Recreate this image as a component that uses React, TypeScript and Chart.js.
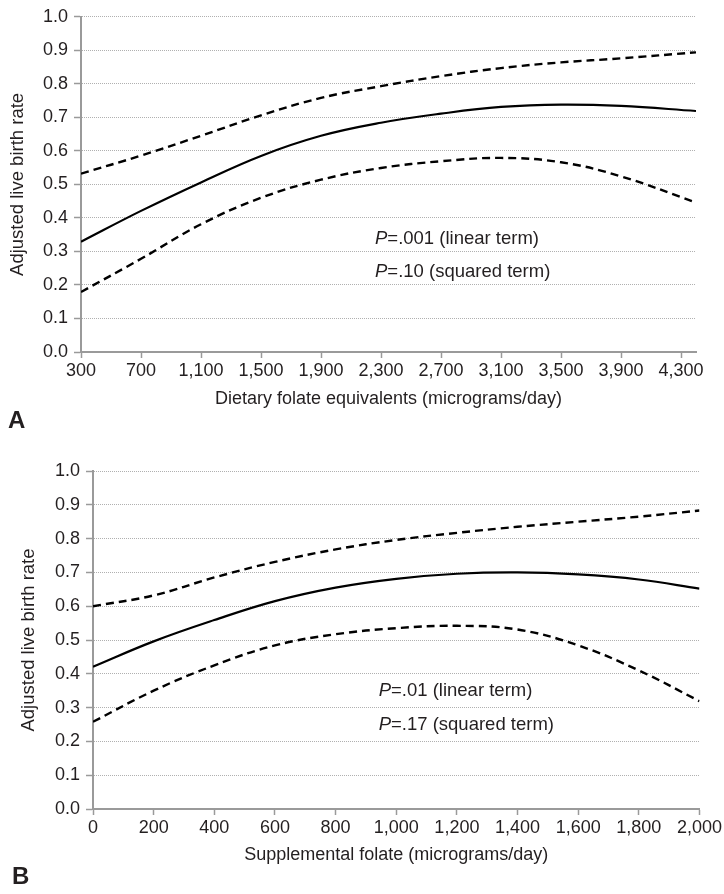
import React, { useEffect, useRef } from 'react';
import { Chart, registerables } from 'chart.js';

Chart.register(...registerables);

// ---------- Data ----------
const yTicks = [0, 0.1, 0.2, 0.3, 0.4, 0.5, 0.6, 0.7, 0.8, 0.9, 1.0];

// Panel A: dietary folate equivalents
const xTicksA = [300, 700, 1100, 1500, 1900, 2300, 2700, 3100, 3500, 3900, 4300];
const xA = [300, 700, 1100, 1500, 1900, 2300, 2700, 3100, 3500, 3900, 4400];
const estimateA = [0.329, 0.421, 0.506, 0.585, 0.645, 0.684, 0.711, 0.731, 0.738, 0.734, 0.719];
const upperA = [0.532, 0.586, 0.645, 0.706, 0.758, 0.793, 0.823, 0.847, 0.864, 0.876, 0.894];
const lowerA = [0.179, 0.278, 0.381, 0.46, 0.514, 0.549, 0.569, 0.579, 0.566, 0.524, 0.446];

// Panel B: supplemental folate
const xTicksB = [0, 200, 400, 600, 800, 1000, 1200, 1400, 1600, 1800, 2000];
const xB = [0, 200, 400, 600, 800, 1000, 1200, 1400, 1600, 1800, 2000];
const estimateB = [0.421, 0.496, 0.559, 0.615, 0.655, 0.681, 0.696, 0.7, 0.694, 0.679, 0.652];
const upperB = [0.6, 0.632, 0.685, 0.731, 0.768, 0.796, 0.817, 0.835, 0.85, 0.865, 0.883];
const lowerB = [0.258, 0.35, 0.425, 0.484, 0.517, 0.535, 0.542, 0.531, 0.484, 0.41, 0.319];

const FONT = "'Liberation Sans', Arial, Helvetica, sans-serif";
const TEXT = '#231f20';

type PanelSpec = {
  letter: string;
  xTitle: string;
  xMin: number;
  xMax: number;
  xTicks: number[];
  xs: number[];
  est: number[];
  up: number[];
  lo: number[];
  pLines: string[];
  annX: number;
  annY: number[];
  pad: { top: number; right: number };
  yWidth: number;
  xHeight: number;
  xTickPad: number;
  xTitlePadBottom: number;
  yTitlePadTop: number;
  letterPos: { x: number; y: number };
};

const panels: PanelSpec[] = [
  {
    letter: 'A',
    xTitle: 'Dietary folate equivalents (micrograms/day)',
    xMin: 300,
    xMax: 4400,
    xTicks: xTicksA,
    xs: xA,
    est: estimateA,
    up: upperA,
    lo: lowerA,
    pLines: ['=.001 (linear term)', '=.10 (squared term)'],
    annX: 2260,
    annY: [0.337, 0.24],
    pad: { top: 14, right: 28 },
    yWidth: 81,
    xHeight: 95,
    xTickPad: 2,
    xTitlePadBottom: 37,
    yTitlePadTop: 7,
    letterPos: { x: 8, y: 428 },
  },
  {
    letter: 'B',
    xTitle: 'Supplemental folate (micrograms/day)',
    xMin: 0,
    xMax: 2000,
    xTicks: xTicksB,
    xs: xB,
    est: estimateB,
    up: upperB,
    lo: lowerB,
    pLines: ['=.01 (linear term)', '=.17 (squared term)'],
    annX: 942,
    annY: [0.349, 0.25],
    pad: { top: 24, right: 21 },
    yWidth: 93,
    xHeight: 85,
    xTickPad: 2,
    xTitlePadBottom: 28,
    yTitlePadTop: 18,
    letterPos: { x: 12, y: 437 },
  },
];

function Panel({ spec }: { spec: PanelSpec }) {
  const ref = useRef<HTMLCanvasElement | null>(null);

  useEffect(() => {
    if (!ref.current) return;
    const toPts = (ys: number[]) => spec.xs.map((x, i) => ({ x, y: ys[i] }));

    const annotPlugin = {
      id: 'annot' + spec.letter,
      afterDraw(chart: any) {
        const ctx = chart.ctx;
        const xs = chart.scales.x;
        const ys = chart.scales.y;
        ctx.save();
        ctx.fillStyle = TEXT;
        ctx.textBaseline = 'middle';
        ctx.textAlign = 'left';
        spec.pLines.forEach((line, i) => {
          const px = xs.getPixelForValue(spec.annX);
          const py = ys.getPixelForValue(spec.annY[i]);
          ctx.font = `italic 18.5px ${FONT}`;
          ctx.fillText('P', px, py);
          const w = ctx.measureText('P').width;
          ctx.font = `18.5px ${FONT}`;
          ctx.fillText(line, px + w, py);
        });
        ctx.font = `bold 24px ${FONT}`;
        ctx.textBaseline = 'alphabetic';
        ctx.fillText(spec.letter, spec.letterPos.x, spec.letterPos.y);
        ctx.restore();
      },
    };

    const lineDs = (label: string, ys: number[], dashed: boolean) => ({
      label,
      data: toPts(ys),
      borderColor: '#000',
      borderWidth: dashed ? 2.4 : 2.2,
      borderDash: dashed ? [8, 5] : [],
      pointRadius: 0,
      fill: false,
      tension: 0.4,
    });

    const chart = new Chart(ref.current, {
      type: 'line',
      data: {
        datasets: [
          lineDs('Upper', spec.up, true),
          lineDs('Estimate', spec.est, false),
          lineDs('Lower', spec.lo, true),
        ],
      },
      options: {
        animation: false,
        responsive: false,
        devicePixelRatio: 1,
        layout: { padding: { top: spec.pad.top, right: spec.pad.right, left: 0, bottom: 0 } },
        plugins: { legend: { display: false }, tooltip: { enabled: false } },
        scales: {
          x: {
            type: 'linear',
            min: spec.xMin,
            max: spec.xMax,
            afterBuildTicks: (scale: any) => {
              scale.ticks = spec.xTicks.map((v) => ({ value: v }));
            },
            afterFit: (scale: any) => {
              scale.height = spec.xHeight;
            },
            ticks: {
              autoSkip: false,
              maxRotation: 0,
              minRotation: 0,
              padding: spec.xTickPad,
              color: TEXT,
              font: { family: FONT, size: 18 },
              callback: (v: any) => Number(v).toLocaleString('en-US'),
            },
            grid: {
              drawOnChartArea: false,
              drawTicks: true,
              tickLength: 6,
              tickColor: '#9a9a9a',
              tickWidth: 1.5,
            },
            border: { display: true, color: '#9a9a9a', width: 2 },
            title: {
              display: true,
              text: spec.xTitle,
              color: TEXT,
              font: { family: FONT, size: 18 },
              padding: { top: 0, bottom: spec.xTitlePadBottom },
            },
          },
          y: {
            type: 'linear',
            min: 0,
            max: 1,
            afterBuildTicks: (scale: any) => {
              scale.ticks = yTicks.map((v) => ({ value: v }));
            },
            afterFit: (scale: any) => {
              scale.width = spec.yWidth;
            },
            ticks: {
              padding: 6,
              color: TEXT,
              font: { family: FONT, size: 18 },
              callback: (v: any) => Number(v).toFixed(1),
            },
            grid: {
              color: '#b0b0b0',
              lineWidth: 1,
              drawTicks: true,
              tickLength: 7,
              tickColor: '#9a9a9a',
              tickWidth: 1.5,
              tickBorderDash: [],
            },
            border: { display: true, color: '#9a9a9a', width: 2, dash: [1, 1] },
            title: {
              display: true,
              text: 'Adjusted live birth rate',
              color: TEXT,
              font: { family: FONT, size: 18.5 },
              padding: { top: spec.yTitlePadTop, bottom: 0 },
            },
          },
        },
      },
      plugins: [annotPlugin],
    } as any);

    return () => chart.destroy();
  }, [spec]);

  return <canvas ref={ref} width={724} height={447} style={{ display: 'block', width: 724, height: 447 }} />;
}

export default function App() {
  useEffect(() => {
    document.body.style.margin = '0';
    document.body.style.background = '#fff';
  }, []);
  return (
    <div style={{ width: 724, height: 894, background: '#fff' }}>
      {panels.map((p) => (
        <Panel key={p.letter} spec={p} />
      ))}
    </div>
  );
}
